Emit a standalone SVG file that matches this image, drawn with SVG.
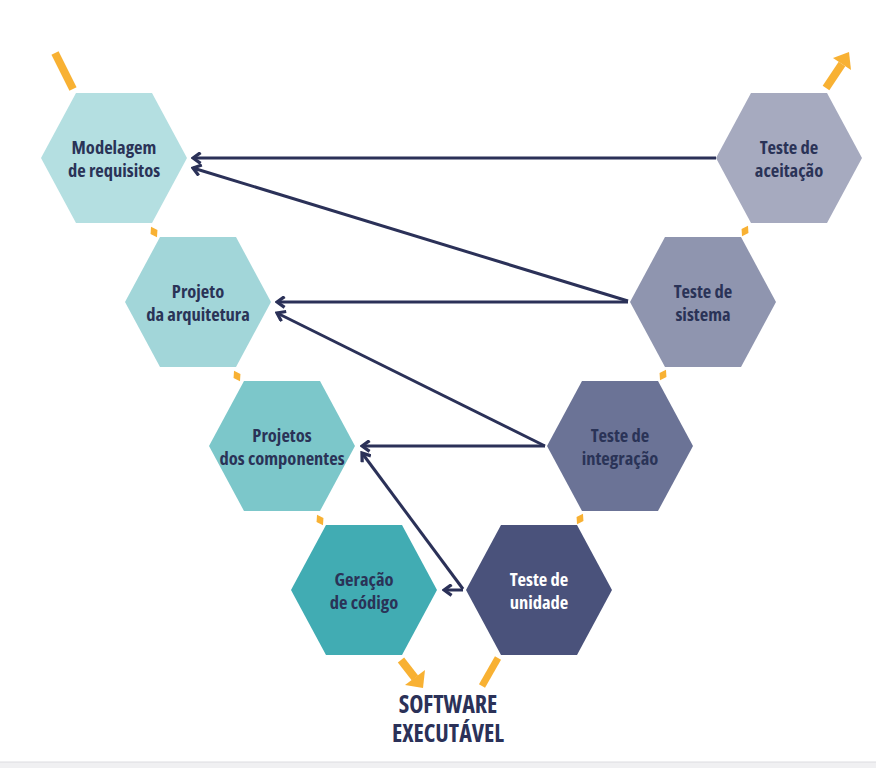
<svg xmlns="http://www.w3.org/2000/svg" width="876" height="768" viewBox="0 0 876 768">
<style>
.lbl{font-family:"Open Sans","DejaVu Sans",sans-serif;font-weight:bold;font-size:18.5px;font-stretch:condensed;text-anchor:middle;fill:#2a3357}
.w{fill:#ffffff}
.big{font-family:"Open Sans","DejaVu Sans",sans-serif;font-weight:bold;font-size:24px;font-stretch:condensed;text-anchor:middle;fill:#2b3158}
.con{stroke:#2b3158;stroke-width:3;fill:none;marker-end:url(#chev)}
.or{stroke:#f8b133;stroke-width:8;fill:none}
.orf{fill:#f8b133}
</style>
<defs>
<polygon id="hex" points="-73,0 -38,-65 38,-65 73,0 38,65 -38,65"/>
<polygon id="dia" points="0,-6 4,0 0,6 -4,0"/>
<marker id="chev" viewBox="0 0 12 12" refX="10" refY="6" markerWidth="13" markerHeight="13" markerUnits="userSpaceOnUse" orient="auto">
<path d="M3,1 L10,6 L3,11" fill="none" stroke="#2b3158" stroke-width="3"/>
</marker>
</defs>
<rect x="0" y="0" width="876" height="768" fill="#ffffff"/>
<rect x="0" y="762" width="876" height="6" fill="#f0f0f2"/>
<line x1="0" y1="762" x2="876" y2="762" stroke="#dcdce0" stroke-width="1"/>

<g id="modelagem"><use href="#hex" x="114" y="158" fill="#b4dfe1"/><text class="lbl" x="114" y="154">Modelagem</text><text class="lbl" x="114" y="177">de requisitos</text></g>
<g id="projeto-arquitetura"><use href="#hex" x="198" y="302" fill="#a2d6d9"/><text class="lbl" x="198" y="298">Projeto</text><text class="lbl" x="198" y="321">da arquitetura</text></g>
<g id="projetos-componentes"><use href="#hex" x="282" y="446" fill="#7cc7ca"/><text class="lbl" x="282" y="442">Projetos</text><text class="lbl" x="282" y="465">dos componentes</text></g>
<g id="geracao-codigo"><use href="#hex" x="364" y="590" fill="#41acb3"/><text class="lbl" x="364" y="586">Geração</text><text class="lbl" x="364" y="609">de código</text></g>
<g id="teste-unidade"><use href="#hex" x="539" y="590" fill="#4a527b"/><text class="lbl w" x="539" y="586">Teste de</text><text class="lbl w" x="539" y="609">unidade</text></g>
<g id="teste-integracao"><use href="#hex" x="620" y="446" fill="#6b7396"/><text class="lbl" x="620" y="442">Teste de</text><text class="lbl" x="620" y="465">integração</text></g>
<g id="teste-sistema"><use href="#hex" x="703" y="302" fill="#8f95af"/><text class="lbl" x="703" y="298">Teste de</text><text class="lbl" x="703" y="321">sistema</text></g>
<g id="teste-aceitacao"><use href="#hex" x="789" y="158" fill="#a6aabf"/><text class="lbl" x="789" y="154">Teste de</text><text class="lbl" x="789" y="177">aceitação</text></g>

<g id="connectors">
<line class="con" x1="716" y1="158" x2="193" y2="158"/>
<line class="con" x1="628" y1="301" x2="193" y2="168"/>
<line class="con" x1="628" y1="302" x2="277" y2="302"/>
<line class="con" x1="545" y1="446" x2="277" y2="313"/>
<line class="con" x1="545" y1="446" x2="362" y2="446"/>
<line class="con" x1="463" y1="589" x2="362" y2="453"/>
<line class="con" x1="463" y1="590" x2="444" y2="590"/>
<g class="orf">
<use href="#dia" transform="translate(154,232) rotate(-30)"/>
<use href="#dia" transform="translate(237,376) rotate(-30)"/>
<use href="#dia" transform="translate(320,520) rotate(-30)"/>
<use href="#dia" transform="translate(745,231) rotate(30)"/>
<use href="#dia" transform="translate(663,375) rotate(30)"/>
<use href="#dia" transform="translate(580,519) rotate(30)"/>
</g>
<line class="or" x1="55" y1="53" x2="73" y2="89"/>
<line class="or" x1="826" y1="88" x2="842" y2="64"/>
<polygon class="orf" points="849,52 833,58 851,70"/>
<line class="or" x1="401" y1="660" x2="415" y2="678"/>
<polygon class="orf" points="423,688 425,670 405,685"/>
<line class="or" x1="498" y1="658" x2="482" y2="686" style="stroke-width:7"/>
</g>

<g id="software-executavel"><text class="big" x="448" y="713">SOFTWARE</text><text class="big" x="448" y="742">EXECUTÁVEL</text></g>
</svg>
